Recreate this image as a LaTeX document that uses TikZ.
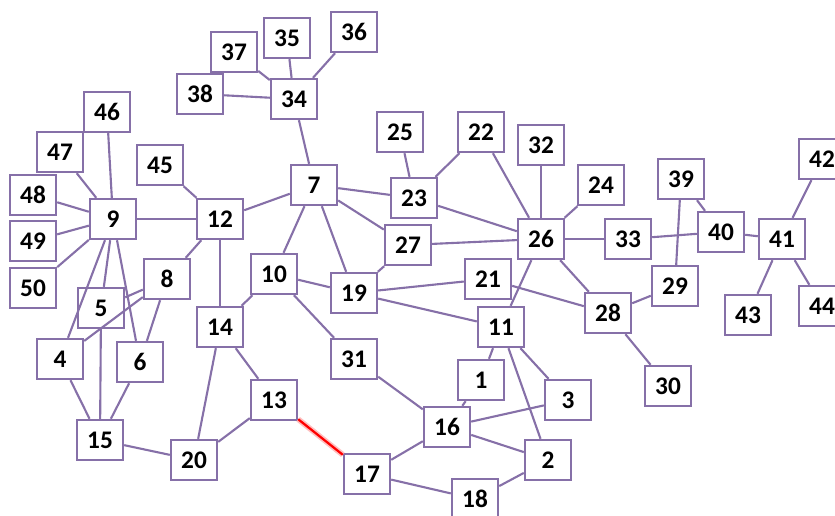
\documentclass[tikz,border=0pt]{standalone}
\usepackage{fontspec}
\setmainfont{Carlito}
\usepackage{tikz}
\definecolor{edgepurple}{RGB}{134,112,168}

\begin{document}
\begin{tikzpicture}[
		x=0.025cm, y=-0.025cm,
		vertex/.style={rectangle, draw=edgepurple, fill=white, line width=1.7pt, minimum width=1.15cm, minimum height=1cm, inner sep=0pt, font=\fontsize{18}{20}\selectfont\bfseries},
		link/.style={draw=edgepurple, line width=1.5pt},
		cutlink/.style={draw=red, line width=1.6pt}
		]
		\useasboundingbox (0,0) rectangle (835,515);
		
		%==================== Nodes ====================%
		\node[vertex] (n1) at (481,380) {1};
		\node[vertex] (n2) at (548,460) {2};
		\node[vertex] (n3) at (568,400) {3};
		\node[vertex] (n4) at (60,359) {4};
		\node[vertex] (n5) at (101,308) {5};
		\node[vertex] (n6) at (140,362) {6};
		\node[vertex] (n7) at (314,185) {7};
		\node[vertex] (n8) at (167,279) {8};
		\node[vertex] (n9) at (113,219) {9};
		\node[vertex] (n10) at (274,274) {10};
		\node[vertex] (n11) at (501,327) {11};
		\node[vertex] (n12) at (220,219) {12};
		\node[vertex] (n13) at (274,400) {13};
		\node[vertex] (n14) at (220,327) {14};
		\node[vertex] (n15) at (100,440) {15};
		\node[vertex] (n16) at (447,427) {16};
		\node[vertex] (n17) at (367,474) {17};
		\node[vertex] (n18) at (475,499) {18};
		\node[vertex] (n19) at (354,293) {19};
		\node[vertex] (n20) at (194,460) {20};
		\node[vertex] (n21) at (488,279) {21};
		\node[vertex] (n22) at (481,132) {22};
		\node[vertex] (n23) at (414,198) {23};
		\node[vertex] (n24) at (601,185) {24};
		\node[vertex] (n25) at (400,132) {25};
		\node[vertex] (n26) at (541,239) {26};
		\node[vertex] (n27) at (408,245) {27};
		\node[vertex] (n28) at (608,313) {28};
		\node[vertex] (n29) at (675,286) {29};
		\node[vertex] (n30) at (668,386) {30};
		\node[vertex] (n31) at (354,359) {31};
		\node[vertex] (n32) at (541,145) {32};
		\node[vertex] (n33) at (628,239) {33};
		\node[vertex] (n34) at (294,99) {34};
		\node[vertex] (n35) at (287,38) {35};
		\node[vertex] (n36) at (354,32) {36};
		\node[vertex] (n37) at (234,52) {37};
		\node[vertex] (n38) at (200,94) {38};
		\node[vertex] (n39) at (681,179) {39};
		\node[vertex] (n40) at (721,232) {40};
		\node[vertex] (n41) at (782,239) {41};
		\node[vertex] (n42) at (822,159) {42};
		\node[vertex] (n43) at (748,315) {43};
		\node[vertex] (n44) at (822,306) {44};
		\node[vertex] (n45) at (160,165) {45};
		\node[vertex] (n46) at (107,112) {46};
		\node[vertex] (n47) at (60,152) {47};
		\node[vertex] (n48) at (33,195) {48};
		\node[vertex] (n49) at (33,241) {49};
		\node[vertex] (n50) at (33,288) {50};
		
		%==================== Edges ====================%
		\draw[link] (n34) -- (n35);
		\draw[link] (n34) -- (n36);
		\draw[link] (n34) -- (n37);
		\draw[link] (n34) -- (n38);
		\draw[link] (n34) -- (n7);
		\draw[link] (n9) -- (n46);
		\draw[link] (n9) -- (n47);
		\draw[link] (n9) -- (n48);
		\draw[link] (n9) -- (n49);
		\draw[link] (n9) -- (n50);
		\draw[link] (n9) -- (n12);
		\draw[link] (n9) -- (n4);
		\draw[link] (n9) -- (n5);
		\draw[link] (n9) -- (n6);
		\draw[link] (n45) -- (n12);
		\draw[link] (n12) -- (n7);
		\draw[link] (n12) -- (n8);
		\draw[link] (n12) -- (n14);
		\draw[link] (n8) -- (n5);
		\draw[link] (n8) -- (n4);
		\draw[link] (n8) -- (n6);
		\draw[link] (n5) -- (n15);
		\draw[link] (n4) -- (n15);
		\draw[link] (n6) -- (n15);
		\draw[link] (n15) -- (n20);
		\draw[link] (n20) -- (n14);
		\draw[link] (n20) -- (n13);
		\draw[link] (n14) -- (n13);
		\draw[link] (n14) -- (n10);
		\draw[link] (n7) -- (n10);
		\draw[link] (n7) -- (n19);
		\draw[link] (n7) -- (n23);
		\draw[link] (n7) -- (n27);
		\draw[link] (n10) -- (n19);
		\draw[link] (n10) -- (n31);
		\draw[link] (n25) -- (n23);
		\draw[link] (n23) -- (n22);
		\draw[link] (n23) -- (n26);
		\draw[link] (n22) -- (n26);
		\draw[link] (n32) -- (n26);
		\draw[link] (n24) -- (n26);
		\draw[link] (n27) -- (n26);
		\draw[link] (n27) -- (n19);
		\draw[link] (n26) -- (n33);
		\draw[link] (n26) -- (n11);
		\draw[link] (n26) -- (n28);
		\draw[link] (n33) -- (n40);
		\draw[link] (n39) -- (n40);
		\draw[link] (n39) -- (n29);
		\draw[link] (n40) -- (n41);
		\draw[link] (n41) -- (n42);
		\draw[link] (n41) -- (n43);
		\draw[link] (n41) -- (n44);
		\draw[link] (n19) -- (n21);
		\draw[link] (n19) -- (n11);
		\draw[link] (n21) -- (n28);
		\draw[link] (n28) -- (n29);
		\draw[link] (n28) -- (n30);
		\draw[link] (n11) -- (n1);
		\draw[link] (n11) -- (n3);
		\draw[link] (n11) -- (n2);
		\draw[link] (n31) -- (n16);
		\draw[link] (n1) -- (n16);
		\draw[link] (n16) -- (n3);
		\draw[link] (n16) -- (n2);
		\draw[link] (n16) -- (n17);
		\draw[link] (n17) -- (n18);
		\draw[link] (n18) -- (n2);
		
		% highlighted edge
		\draw[draw=red!25, line width=4pt] (n13) -- (n17);
		\draw[cutlink] (n13) -- (n17);
		
	\end{tikzpicture}
\end{document}
